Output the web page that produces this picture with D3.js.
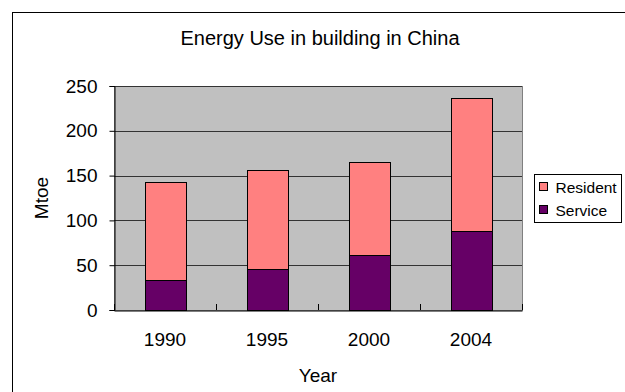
<!DOCTYPE html>
<html>
<head>
<meta charset="utf-8">
<script src="https://cdn.jsdelivr.net/npm/d3@7"></script>
<style>
  html, body { margin: 0; padding: 0; background: #fff; }
  svg { display: block; font-family: "Liberation Sans", Arial, sans-serif; }
</style>
</head>
<body>
<svg id="chart" width="625" height="392"></svg>
<script>
// Energy use in buildings, China (Mtoe)
const years = ["1990", "1995", "2000", "2004"];
const service = [33, 46, 61, 88];
const resident = [110, 110, 104, 149];
const seriesNames = ["Resident", "Service"];
const seriesColors = ["#FF8080", "#660066"];
const yTicks = [0, 50, 100, 150, 200, 250];

const svg = d3.select("#chart");

// outer chart frame
svg.append("rect")
  .attr("x", 12.5).attr("y", 12.5)
  .attr("width", 640).attr("height", 400)
  .attr("fill", "#fff").attr("stroke", "#000").attr("stroke-width", 1);

const plot = { left: 114, right: 522, top: 86, bottom: 310 };

const x = d3.scaleBand()
  .domain(years)
  .range([plot.left, plot.right])
  .paddingInner(0.6)
  .paddingOuter(0.3);

const y = d3.scaleLinear()
  .domain([0, 250])
  .range([plot.bottom, plot.top]);

// plot background
svg.append("rect")
  .attr("x", plot.left).attr("y", plot.top)
  .attr("width", plot.right - plot.left).attr("height", plot.bottom - plot.top)
  .attr("fill", "#C0C0C0").attr("stroke", "#808080").attr("stroke-width", 1)
  .attr("shape-rendering", "crispEdges");

// horizontal gridlines
svg.append("g")
  .selectAll("line")
  .data(yTicks.filter(d => d > 0))
  .join("line")
  .attr("x1", plot.left).attr("x2", plot.right)
  .attr("y1", d => Math.round(y(d)) + 0.5).attr("y2", d => Math.round(y(d)) + 0.5)
  .attr("stroke", "#333").attr("stroke-width", 1);

// stacked bars
const stackData = years.map((yr, i) => ({ year: yr, Service: service[i], Resident: resident[i] }));
const stack = d3.stack().keys(["Service", "Resident"]);
const layers = stack(stackData);
const colorOf = { Service: "#660066", Resident: "#FF8080" };

svg.append("g")
  .selectAll("g")
  .data(layers)
  .join("g")
  .attr("fill", d => colorOf[d.key])
  .selectAll("rect")
  .data(d => d)
  .join("rect")
  .attr("x", d => Math.round(x(d.data.year)) + 0.5)
  .attr("y", d => Math.round(y(d[1])) + 0.5)
  .attr("width", Math.round(x.bandwidth()))
  .attr("height", d => Math.round(y(d[0])) - Math.round(y(d[1])))
  .attr("stroke", "#000").attr("stroke-width", 1);

// y axis
const yAxis = d3.axisLeft(y)
  .tickValues(yTicks)
  .tickSize(5)
  .tickPadding(12);
const gy = svg.append("g")
  .attr("transform", `translate(${plot.left + 0.5},0)`)
  .call(yAxis);
gy.select(".domain").attr("stroke", "#000");
gy.selectAll(".tick line").attr("stroke", "#000");
gy.selectAll(".tick text")
  .attr("font-size", 19)
  .attr("fill", "#000")
  .attr("font-family", "'Liberation Sans', Arial, sans-serif");

// x axis: category labels below, ticks at category boundaries pointing inward
const xAxis = d3.axisBottom(x).tickSize(0).tickPadding(22);
const gx = svg.append("g")
  .attr("transform", `translate(0,${plot.bottom + 0.5})`)
  .call(xAxis);
gx.select(".domain").attr("stroke", "#000");
gx.selectAll(".tick text")
  .attr("font-size", 19)
  .attr("fill", "#000")
  .attr("font-family", "'Liberation Sans', Arial, sans-serif");

const boundaries = years.map((d, i) => plot.left + i * x.step());
boundaries.push(plot.right);
svg.append("g")
  .selectAll("line")
  .data(boundaries)
  .join("line")
  .attr("x1", d => Math.round(d) + 0.5).attr("x2", d => Math.round(d) + 0.5)
  .attr("y1", plot.bottom - 6).attr("y2", plot.bottom)
  .attr("stroke", "#000");

// title
svg.append("text")
  .attr("x", 320).attr("y", 45)
  .attr("text-anchor", "middle")
  .attr("font-size", 20)
  .text("Energy Use in building in China");

// axis titles
svg.append("text")
  .attr("x", (plot.left + plot.right) / 2).attr("y", 382)
  .attr("text-anchor", "middle")
  .attr("font-size", 19)
  .text("Year");

svg.append("text")
  .attr("transform", `translate(48,${(plot.top + plot.bottom) / 2}) rotate(-90)`)
  .attr("text-anchor", "middle")
  .attr("font-size", 19)
  .text("Mtoe");

// legend
const legend = svg.append("g");
legend.append("rect")
  .attr("x", 534.5).attr("y", 174.5)
  .attr("width", 87).attr("height", 48)
  .attr("fill", "#fff").attr("stroke", "#000");

const legendRows = legend.selectAll("g.row")
  .data(seriesNames)
  .join("g")
  .attr("class", "row")
  .attr("transform", (d, i) => `translate(0,${i * 23})`);
legendRows.append("rect")
  .attr("x", 539.5).attr("y", 182.5)
  .attr("width", 8).attr("height", 8)
  .attr("fill", (d, i) => seriesColors[i])
  .attr("stroke", "#000");
legendRows.append("text")
  .attr("x", 555.5).attr("y", 192.5)
  .attr("font-size", 15.5)
  .text(d => d);
</script>
</body>
</html>
